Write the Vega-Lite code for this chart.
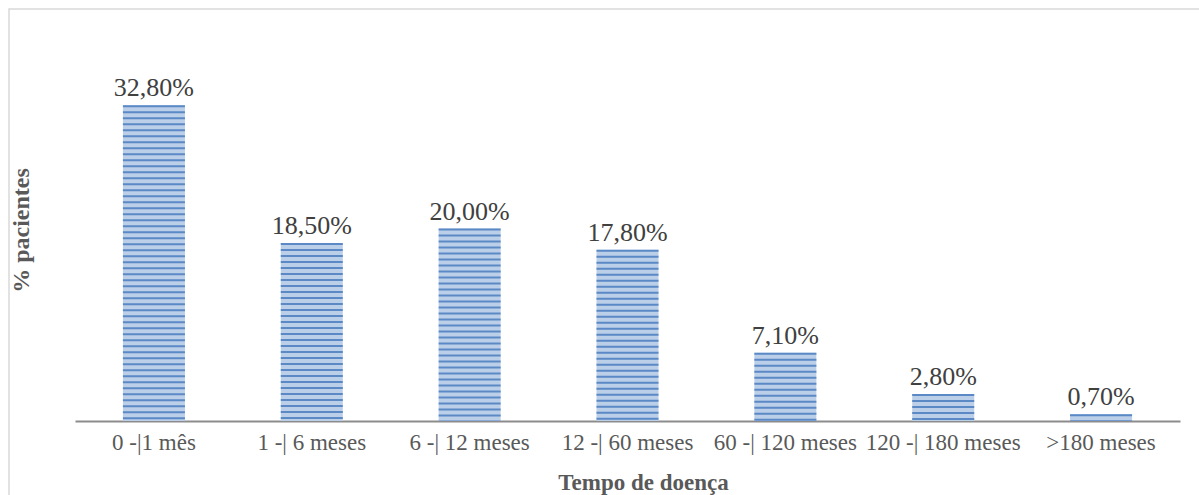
{
  "$schema": "https://vega.github.io/schema/vega-lite/v6.json",
  "autosize": {"type": "none"},
  "padding": {"left": 9, "top": 9, "right": 0, "bottom": 0},
  "width": 1191,
  "height": 487,
  "background": "#ffffff",
  "config": {
    "locale": {"number": {"decimal": ",", "thousands": ".", "grouping": [3], "currency": ["R$", ""]}},
    "view": {"stroke": "#d9d9d9", "strokeWidth": 1.5},
    "font": "Liberation Serif, Times New Roman, serif"
  },
  "data": {
    "values": [
      {"tempo": "0 -|1 mês", "pct": 0.328},
      {"tempo": "1 -| 6 meses", "pct": 0.185},
      {"tempo": "6 -| 12 meses", "pct": 0.200},
      {"tempo": "12 -| 60 meses", "pct": 0.178},
      {"tempo": "60 -| 120 meses", "pct": 0.071},
      {"tempo": "120 -| 180 meses", "pct": 0.028},
      {"tempo": ">180 meses", "pct": 0.007}
    ]
  },
  "encoding": {
    "x": {
      "field": "tempo",
      "type": "nominal",
      "sort": null,
      "scale": {"range": [66, 1171], "paddingInner": 0, "paddingOuter": 0},
      "axis": {
        "orient": "bottom",
        "offset": -75,
        "labelAngle": 0,
        "labelFont": "Liberation Serif, Times New Roman, serif",
        "labelFontSize": 23,
        "labelColor": "#595959",
        "labelPadding": 10,
        "labelOverlap": false,
        "labelLimit": 0,
        "ticks": false,
        "domainColor": "#8c8c8c",
        "domainWidth": 2,
        "title": "Tempo de doença",
        "titleFont": "Liberation Serif, Times New Roman, serif",
        "titleFontSize": 23,
        "titleFontWeight": "bold",
        "titleColor": "#595959",
        "titlePadding": 17,
        "titleX": 634
      }
    },
    "y": {
      "field": "pct",
      "type": "quantitative",
      "scale": {"domain": [0, 0.4], "range": [412, 27], "nice": false, "zero": true},
      "axis": {
        "domain": false,
        "ticks": false,
        "labels": false,
        "grid": false,
        "title": "% pacientes",
        "titleFont": "Liberation Serif, Times New Roman, serif",
        "titleFontSize": 24,
        "titleFontWeight": "bold",
        "titleColor": "#595959",
        "titleX": 12,
        "titleY": 221,
        "titleBaseline": "middle",
        "titleAlign": "center",
        "titleAngle": -90
      }
    }
  },
  "layer": [
    {
      "mark": {"type": "bar", "width": {"band": 0.393}, "color": "#bccfe9"}
    },
    {
      "mark": {"type": "rule", "strokeWidth": 62, "strokeCap": "butt", "strokeDash": [2, 4], "color": "#5a89c6"},
      "encoding": {"y2": {"datum": 0}}
    },
    {
      "mark": {"type": "text", "baseline": "bottom", "dy": -4, "font": "Liberation Serif, Times New Roman, serif", "fontSize": 26, "color": "#404040"},
      "encoding": {"text": {"field": "pct", "type": "quantitative", "format": ".2%"}}
    }
  ]
}
